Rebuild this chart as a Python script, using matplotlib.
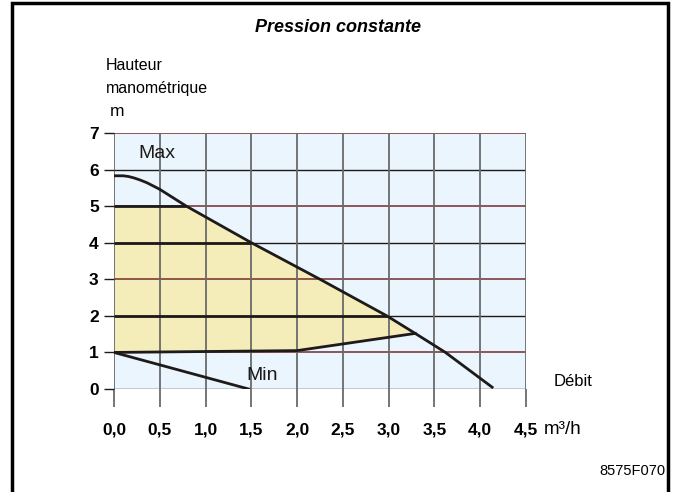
import numpy as np
import matplotlib
matplotlib.use("Agg")
import matplotlib.pyplot as plt
from matplotlib.patches import Rectangle

plt.rcParams['font.family'] = ['Liberation Sans', 'DejaVu Sans']

# --- DATA ---
x_ticks = [0.0, 0.5, 1.0, 1.5, 2.0, 2.5, 3.0, 3.5, 4.0, 4.5]
x_labels = ["0,0", "0,5", "1,0", "1,5", "2,0", "2,5", "3,0", "3,5", "4,0", "4,5"]
y_ticks = [0, 1, 2, 3, 4, 5, 6, 7]

# max pump curve (debit m3/h, hauteur m)
max_q = [0.0, 0.1, 0.16, 0.22, 0.28, 0.36, 0.5, 0.79, 1.5, 2.25, 2.98, 3.29, 3.62, 4.13]
max_h = [5.83, 5.83, 5.81, 5.77, 5.72, 5.64, 5.46, 5.0, 4.0, 3.0, 2.0, 1.52, 1.0, 0.05]

# min curve
min_q = [0.0, 1.47]
min_h = [1.0, 0.0]

# lower boundary of the constant pressure field
low_q = [0.0, 2.0, 3.29]
low_h = [1.0, 1.05, 1.52]

# constant pressure settings drawn inside the field
setpoints = [5, 4, 2]

BG = "#eaf5fd"
YELLOW = "#f5edb9"
RED = "#7d3b3b"
DARK = "#1e1a1a"
GRAY = "#6a6a6a"

fig = plt.figure(figsize=(6.76, 4.92), dpi=100)
ax = fig.add_axes([114 / 676, 1 - 389 / 492, 412 / 676, 256 / 492])
ax.set_facecolor(BG)
ax.set_xlim(0, 4.5)
ax.set_ylim(0, 7)

# grid
for y in y_ticks:
    ax.axhline(y, color=RED if y % 2 else DARK, lw=1.2 if y % 2 else 1.0, zorder=1)
for x in x_ticks:
    ax.axvline(x, color=GRAY, lw=1.3, zorder=1)

# yellow field
qq = np.linspace(0, low_q[-1], 300)
upper = np.minimum(setpoints[0], np.interp(qq, max_q, max_h))
lower = np.interp(qq, low_q, low_h)
ax.fill_between(qq, lower, upper, color=YELLOW, zorder=0.5, lw=0)

for s in setpoints:
    q_end = np.interp(s, max_h[::-1], max_q[::-1])
    ax.plot([0, q_end], [s, s], color=DARK, lw=2.0, zorder=3, solid_capstyle='butt')

ax.plot(low_q, low_h, color=DARK, lw=2.0, zorder=3)
ax.plot(max_q, max_h, color=DARK, lw=2.0, zorder=4)
ax.plot(min_q, min_h, color=DARK, lw=2.0, zorder=4)

ax.text(0.47, 6.45, "Max", fontsize=14, ha='center', va='center', color=DARK)
ax.text(1.62, 0.38, "Min", fontsize=14, ha='center', va='center', color=DARK)

for sp in ax.spines.values():
    sp.set_visible(False)

ax.set_xticks(x_ticks)
ax.set_xticklabels(x_labels, fontsize=12.5, fontweight='bold')
ax.set_yticks(y_ticks)
ax.set_yticklabels([str(v) for v in y_ticks], fontsize=12.5, fontweight='bold')
ax.tick_params(axis='x', length=13, width=1.3, color=GRAY, pad=11)
ax.tick_params(axis='y', length=7, width=1.0, color=DARK, pad=4)

# labels and annotations in figure pixels
def ftext(px, py, s, **kw):
    fig.text(px / 676, 1 - py / 492, s, **kw)

ftext(338, 28, "Pression constante", fontsize=13, fontweight='bold', fontstyle='italic',
      ha='center', va='center')
ftext(106, 66, "Hauteur", fontsize=11.5, ha='left', va='center')
ftext(106, 88, "manométrique", fontsize=11.5, ha='left', va='center')
ftext(110, 111, "m", fontsize=12.5, ha='left', va='center')
ftext(544, 430, "m³/h", fontsize=13.5, ha='left', va='center')
ftext(573, 382, "Débit", fontsize=12, ha='center', va='center')
ftext(665, 471, "8575F070", fontsize=10.5, ha='right', va='center')

# outer frame
fig.patches.append(Rectangle((12 / 676, -0.02), (668 - 12) / 676, 1.02 - 3 / 492,
                             transform=fig.transFigure, fill=False, lw=2.5,
                             edgecolor='black'))

fig.savefig("out.png", dpi=100)
